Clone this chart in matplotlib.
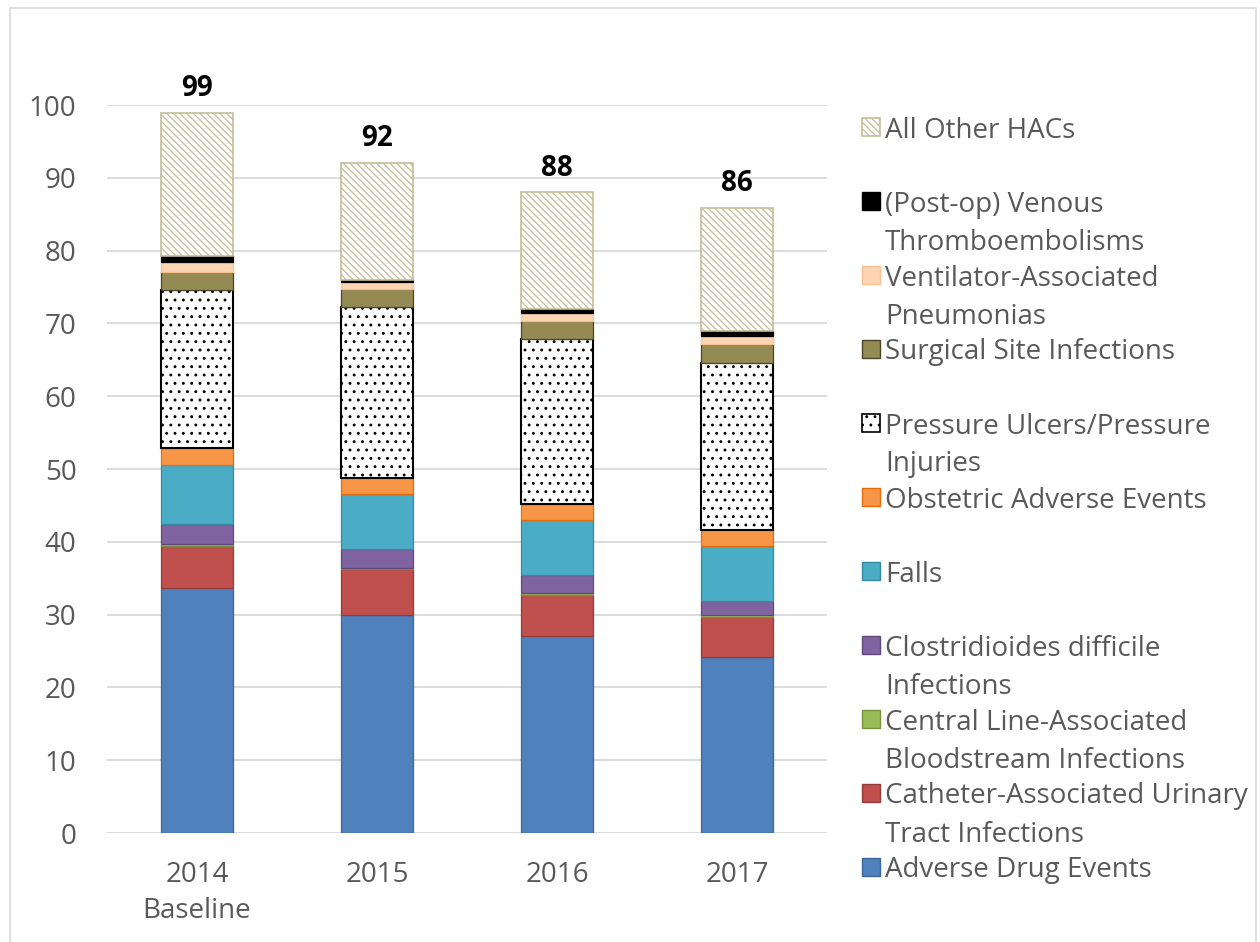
import matplotlib
matplotlib.use("Agg")
import matplotlib.pyplot as plt
from matplotlib.patches import Rectangle
import numpy as np

# ---------------- data ----------------
categories = ["2014\nBaseline", "2015", "2016", "2017"]
adverse_drug = [33.6, 29.9, 27.0, 24.2]
cauti = [5.8, 6.4, 5.7, 5.5]
clabsi = [0.3, 0.1, 0.2, 0.2]
cdiff = [2.7, 2.6, 2.5, 1.9]
falls = [8.1, 7.6, 7.6, 7.6]
obstetric = [2.4, 2.1, 2.2, 2.2]
pressure_ulcers = [21.7, 23.6, 22.7, 23.0]
surgical_site = [2.5, 2.4, 2.4, 2.6]
vap = [1.3, 1.0, 1.1, 1.1]
vte = [0.9, 0.2, 0.6, 0.6]
all_other = [19.6, 16.2, 16.0, 17.0]

series_labels = [
    "Adverse Drug Events",
    "Catheter-Associated Urinary\nTract Infections",
    "Central Line-Associated\nBloodstream Infections",
    "Clostridioides difficile\nInfections",
    "Falls",
    "Obstetric Adverse Events",
    "Pressure Ulcers/Pressure\nInjuries",
    "Surgical Site Infections",
    "Ventilator-Associated\nPneumonias",
    "(Post-op) Venous\nThromboembolisms",
    "All Other HACs",
]
series_values = [adverse_drug, cauti, clabsi, cdiff, falls, obstetric,
                 pressure_ulcers, surgical_site, vap, vte, all_other]

# ---------------- styles ----------------
styles = [
    dict(facecolor="#4f81bd", edgecolor="#3b679c", hatch=None, lw=0.9),
    dict(facecolor="#c0504d", edgecolor="#943b39", hatch=None, lw=0.9),
    dict(facecolor="#9bbb59", edgecolor="#77913f", hatch=None, lw=0.9),
    dict(facecolor="#8064a2", edgecolor="#5f4a7a", hatch=None, lw=0.9),
    dict(facecolor="#4bacc6", edgecolor="#358a9f", hatch=None, lw=0.9),
    dict(facecolor="#f79646", edgecolor="#e46c0a", hatch=None, lw=0.9),
    dict(facecolor="white", edgecolor="black", hatch="..", lw=1.5),
    dict(facecolor="#948a54", edgecolor="#4a452a", hatch=None, lw=0.9),
    dict(facecolor="#fcd5b5", edgecolor="#fac090", hatch=None, lw=0.9),
    dict(facecolor="black", edgecolor="black", hatch=None, lw=0.9),
    dict(facecolor="white", edgecolor="#c4bd97", hatch="\\\\\\\\\\", lw=1.2),
]

FONT = "Open Sans"
TXT = "#595959"
plt.rcParams["font.family"] = [FONT, "DejaVu Sans"]
plt.rcParams["hatch.linewidth"] = 0.9

W, H = 1260, 942
fig = plt.figure(figsize=(W / 100, H / 100), dpi=100)
fig.patch.set_facecolor("white")

# outer chart border
fig.add_artist(Rectangle((10 / W, -0.05), 1246 / W, 1 - 8 / H + 0.05,
                         transform=fig.transFigure, fill=False,
                         edgecolor="#d9d9d9", lw=1.2))

ax = fig.add_axes([107 / W, 1 - 833 / H, 720 / W, 728 / H])
x = np.arange(len(categories))
bottom = np.zeros(len(categories))
for vals, st in zip(series_values, styles):
    ax.bar(x, vals, width=0.4, bottom=bottom, facecolor=st["facecolor"],
           edgecolor=st["edgecolor"], hatch=st["hatch"], linewidth=st["lw"],
           zorder=3)
    bottom = bottom + np.array(vals)

for xi, tot in zip(x, bottom):
    ax.annotate(f"{round(tot)}", (xi, tot), xytext=(0, 7),
                textcoords="offset points", ha="center", va="bottom",
                fontsize=20, fontweight="bold", color="black",
                annotation_clip=False)

ax.set_xlim(-0.5, 3.5)
ax.set_ylim(0, 100)
ax.set_yticks(np.arange(0, 101, 10))
ax.set_xticks(x)
ax.set_xticklabels(categories, linespacing=1.4)
ax.tick_params(axis="both", length=0, labelsize=20, labelcolor=TXT)
ax.tick_params(axis="y", pad=22)
ax.tick_params(axis="x", pad=20)
for s in ax.spines.values():
    s.set_visible(False)
ax.yaxis.grid(True, color="#d9d9d9", lw=1.3, zorder=0)
ax.set_axisbelow(True)

# ---------------- legend (manual, Excel-like slots) ----------------
leg_top = 127
leg_step = 74
line_gap = 38
order = list(range(len(series_labels)))[::-1]
for i, idx in enumerate(order):
    yc = leg_top + i * leg_step
    st = styles[idx]
    fig.add_artist(Rectangle((862 / W, 1 - (yc + 9) / H), 18 / W, 18 / H,
                             transform=fig.transFigure,
                             facecolor=st["facecolor"], edgecolor=st["edgecolor"],
                             hatch=st["hatch"], lw=1.2 if st["hatch"] else 1.0))
    for j, line in enumerate(series_labels[idx].split("\n")):
        fig.text(885 / W, 1 - (yc + j * line_gap) / H, line, ha="left",
                 va="center_baseline", fontsize=20, color=TXT)

fig.savefig("out.png", dpi=100, facecolor="white")
